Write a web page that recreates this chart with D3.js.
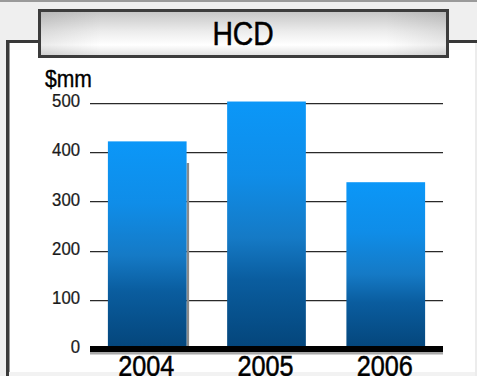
<!DOCTYPE html>
<html>
<head>
<meta charset="utf-8">
<script src="https://cdn.jsdelivr.net/npm/d3@7"></script>
<style>
  html, body { margin: 0; padding: 0; background: #efefef; }
  svg { display: block; }
  text { font-family: "Liberation Sans", Arial, sans-serif; }
</style>
</head>
<body>
<script>
// HCD revenue by year, $mm
const years = ["2004", "2005", "2006"];
const values = [422, 503, 339];
const shadowValues = [378, 0, 0];
const yTicks = [0, 100, 200, 300, 400, 500];
const title = "HCD";
const unitLabel = "$mm";

const W = 477, H = 376;
const svg = d3.select("body").append("svg").attr("width", W).attr("height", H);
const defs = svg.append("defs");

// bar fill: bright blue at the top fading to deep navy
const barGrad = defs.append("linearGradient").attr("id", "barGrad")
  .attr("x1", 0).attr("y1", 0).attr("x2", 0).attr("y2", 1);
[[0, "#0b97f8"], [0.3, "#0f8de8"], [0.55, "#157ac6"], [0.72, "#0a5d9f"], [1, "#04457a"]]
  .forEach(([o, c]) => barGrad.append("stop").attr("offset", o).attr("stop-color", c));

// title box fill
const titleGrad = defs.append("linearGradient").attr("id", "titleGrad")
  .attr("x1", 0).attr("y1", 0).attr("x2", 0).attr("y2", 1);
[[0, "#c4c4c4"], [0.45, "#ececec"], [0.75, "#ffffff"], [1, "#dedede"]]
  .forEach(([o, c]) => titleGrad.append("stop").attr("offset", o).attr("stop-color", c));
const titleGradH = defs.append("linearGradient").attr("id", "titleGradH")
  .attr("x1", 0).attr("y1", 0).attr("x2", 1).attr("y2", 0);
[[0, "#000", 0.08], [0.15, "#000", 0], [0.85, "#000", 0], [1, "#000", 0.08]]
  .forEach(([o, c, a]) => titleGradH.append("stop").attr("offset", o).attr("stop-color", c).attr("stop-opacity", a));

// top rule
svg.append("rect").attr("x", 0).attr("y", 0).attr("width", W).attr("height", 2).attr("fill", "#9a9a9a");

// white panel with dark top/left edge
svg.append("rect").attr("x", 9).attr("y", 43).attr("width", 466).attr("height", 329).attr("fill", "#ffffff");
svg.append("rect").attr("x", 6).attr("y", 40).attr("width", W - 6).attr("height", 3).attr("fill", "#3a3a3a");
svg.append("rect").attr("x", 6).attr("y", 40).attr("width", 3).attr("height", H - 40).attr("fill", "#3a3a3a");
svg.append("rect").attr("x", 9).attr("y", 43).attr("width", 1).attr("height", H - 43).attr("fill", "#9a9a9a");
svg.append("rect").attr("x", 475).attr("y", 43).attr("width", 2).attr("height", H - 43).attr("fill", "#ececec");
svg.append("rect").attr("x", 9).attr("y", 372).attr("width", 466).attr("height", 4).attr("fill", "#f2f2f2");

// title box
svg.append("rect").attr("x", 39.5).attr("y", 10.5).attr("width", 408).attr("height", 46)
  .attr("fill", "url(#titleGrad)").attr("stroke", "#3c3c3c").attr("stroke-width", 3);
svg.append("rect").attr("x", 41).attr("y", 12).attr("width", 405).attr("height", 43)
  .attr("fill", "url(#titleGradH)");
svg.append("text").attr("transform", "translate(243,45) scale(0.87,1)").attr("text-anchor", "middle")
  .attr("font-size", 32.5).attr("fill", "#000").attr("stroke", "#000").attr("stroke-width", 0.5)
  .text(title);

// plot area
const x0 = 90, x1 = 443;
const y = d3.scaleLinear().domain([0, 500]).range([349, 103]);
const x = d3.scaleBand().domain(years).range([x0, x1]).paddingInner(0.34).paddingOuter(0.15);

// gridlines (dark line with a soft grey shadow under it)
const grid = svg.append("g");
yTicks.filter(t => t > 0).forEach(t => {
  const yy = Math.round(y(t));
  grid.append("line").attr("x1", x0).attr("x2", x1).attr("y1", yy + 1.5).attr("y2", yy + 1.5)
    .attr("stroke", "#c8c8c8").attr("stroke-width", 1);
  grid.append("line").attr("x1", x0).attr("x2", x1).attr("y1", yy + 0.5).attr("y2", yy + 0.5)
    .attr("stroke", "#2a2a2a").attr("stroke-width", 1);
});

// y axis tick labels
const yAxis = d3.axisLeft(y).tickValues(yTicks).tickSize(0).tickPadding(0);
const yg = svg.append("g").attr("transform", `translate(80,-2)`).call(yAxis);
yg.select(".domain").remove();
yg.selectAll("text").attr("font-size", 18).attr("fill", "#1a1a1a")
  .attr("stroke", "#1a1a1a").attr("stroke-width", 0.25)
  .attr("font-family", '"Liberation Sans", Arial, sans-serif').attr("transform", "scale(0.93,1)");

// unit label
svg.append("text").attr("transform", "translate(45,87) scale(0.92,1)")
  .attr("font-size", 23).attr("fill", "#000").attr("stroke", "#000").attr("stroke-width", 0.35)
  .text(unitLabel);

// bar shadows
svg.append("g").selectAll("rect").data(years).join("rect")
  .attr("x", d => x(d) + x.bandwidth())
  .attr("y", (d, i) => y(shadowValues[i]))
  .attr("width", 2.5)
  .attr("height", (d, i) => y(0) - y(shadowValues[i]))
  .attr("fill", "#8a8a8a");

// bars
svg.append("g").selectAll("rect").data(years).join("rect")
  .attr("x", d => x(d))
  .attr("y", (d, i) => y(values[i]))
  .attr("width", x.bandwidth())
  .attr("height", (d, i) => y(0) - y(values[i]))
  .attr("fill", "url(#barGrad)");

// baseline
svg.append("rect").attr("x", x0).attr("y", y(0) - 1.5).attr("width", x1 - x0).attr("height", 7).attr("fill", "#a8a8a8");
svg.append("rect").attr("x", x0).attr("y", y(0) - 3).attr("width", x1 - x0).attr("height", 6).attr("fill", "#000");

// x axis labels
const xAxis = d3.axisBottom(x).tickSize(0).tickPadding(0);
const xg = svg.append("g").attr("transform", `translate(-1,${y(0) + 27})`).call(xAxis);
xg.select(".domain").remove();
xg.selectAll("text").attr("font-size", 29).attr("fill", "#000").attr("dy", 0)
  .attr("stroke", "#000").attr("stroke-width", 0.5)
  .attr("font-family", '"Liberation Sans", Arial, sans-serif').attr("transform", "scale(0.87,1)");
</script>
</body>
</html>
